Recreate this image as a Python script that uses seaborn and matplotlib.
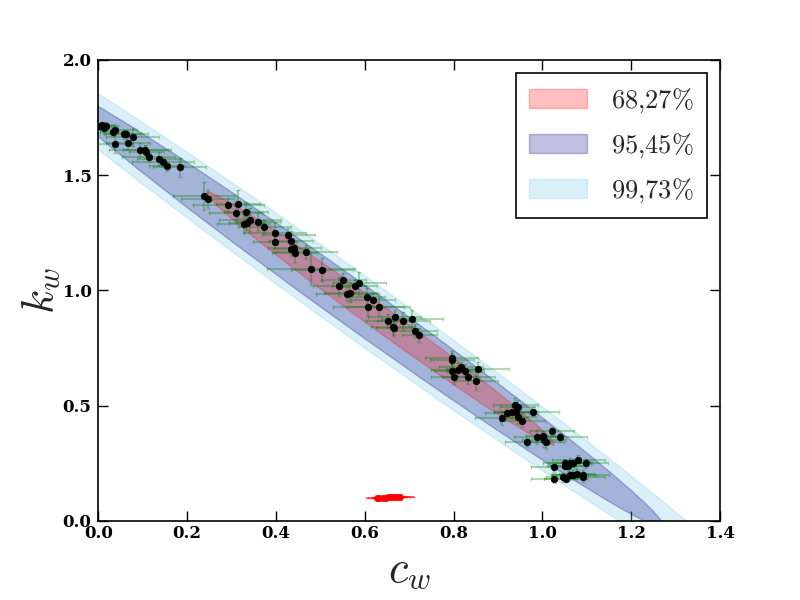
import numpy as np
import pandas as pd
import matplotlib
matplotlib.use('Agg')
import matplotlib.pyplot as plt
from matplotlib.patches import Ellipse
import seaborn as sns

# confidence regions (centre, semi-axes, slope of major axis)
levels = [r'$68{,}27\%$', r'$95{,}45\%$', r'$99{,}73\%$']
ell_c = [0.635, 0.575, 0.575]
ell_k = [0.878, 0.941, 0.941]
ell_major = [0.673, 1.19, 1.55]
ell_minor = [0.037, 0.068, 0.092]
ell_slope = [-1.405, -1.39, -1.39]

# measured points
c_w = [0.008, 0.016, 0.012, 0.004, 0.034, 0.038, 0.038, 0.057, 0.062, 0.077,
       0.066, 0.093, 0.106, 0.108, 0.113, 0.136, 0.146, 0.155, 0.183, 0.237,
       0.246, 0.293, 0.314, 0.310, 0.333, 0.342, 0.335, 0.327, 0.359, 0.374,
       0.398, 0.398, 0.428, 0.434, 0.434, 0.441, 0.442, 0.467, 0.479, 0.503,
       0.552, 0.543, 0.561, 0.567, 0.577, 0.588, 0.605, 0.618, 0.608, 0.631,
       0.653, 0.667, 0.663, 0.665, 0.687, 0.706, 0.712, 0.723, 0.796, 0.797,
       0.796, 0.809, 0.816, 0.825, 0.800, 0.833, 0.850, 0.854, 0.939, 0.944,
       0.920, 0.931, 0.941, 0.945, 0.908, 0.955, 0.978, 1.021, 0.987, 1.002,
       1.004, 1.008, 0.966, 1.040, 1.025, 1.051, 1.057, 1.062, 1.070, 1.081,
       1.098, 1.051, 1.025, 1.047, 1.053, 1.062, 1.070, 1.077, 1.091, 1.092]
k_w = [1.718, 1.714, 1.704, 1.712, 1.689, 1.696, 1.636, 1.678, 1.678, 1.665,
       1.639, 1.610, 1.610, 1.602, 1.578, 1.569, 1.556, 1.540, 1.534, 1.410,
       1.396, 1.371, 1.375, 1.335, 1.342, 1.306, 1.294, 1.288, 1.296, 1.277,
       1.251, 1.212, 1.241, 1.216, 1.180, 1.183, 1.161, 1.166, 1.092, 1.089,
       1.046, 1.017, 0.983, 0.988, 1.017, 1.031, 0.971, 0.959, 0.930, 0.927,
       0.868, 0.884, 0.843, 0.836, 0.868, 0.875, 0.824, 0.807, 0.706, 0.697,
       0.651, 0.655, 0.669, 0.652, 0.623, 0.623, 0.607, 0.659, 0.503, 0.496,
       0.467, 0.471, 0.474, 0.450, 0.446, 0.435, 0.473, 0.388, 0.363, 0.369,
       0.351, 0.341, 0.341, 0.363, 0.233, 0.250, 0.236, 0.253, 0.250, 0.265,
       0.250, 0.236, 0.182, 0.188, 0.181, 0.197, 0.200, 0.204, 0.200, 0.190]
c_err = [0.03, 0.02, 0.025, 0.04, 0.03, 0.05, 0.04, 0.04, 0.05, 0.06,
         0.05, 0.07, 0.05, 0.04, 0.06, 0.05, 0.07, 0.04, 0.06, 0.07,
         0.06, 0.08, 0.05, 0.06, 0.05, 0.07, 0.04, 0.06, 0.05, 0.06,
         0.07, 0.05, 0.06, 0.05, 0.04, 0.06, 0.05, 0.07, 0.10, 0.07,
         0.05, 0.06, 0.07, 0.06, 0.05, 0.06, 0.04, 0.05, 0.08, 0.07,
         0.05, 0.06, 0.05, 0.04, 0.06, 0.07, 0.05, 0.04, 0.06, 0.05,
         0.04, 0.06, 0.05, 0.04, 0.05, 0.06, 0.05, 0.07, 0.05, 0.04,
         0.05, 0.04, 0.05, 0.04, 0.06, 0.05, 0.06, 0.05, 0.05, 0.04,
         0.05, 0.04, 0.05, 0.06, 0.05, 0.05, 0.04, 0.05, 0.04, 0.06,
         0.05, 0.04, 0.05, 0.04, 0.05, 0.04, 0.05, 0.04, 0.06, 0.05]
k_err = [0.01, 0.015, 0.02, 0.01, 0.02, 0.015, 0.04, 0.02, 0.02, 0.04,
         0.03, 0.03, 0.02, 0.03, 0.02, 0.03, 0.02, 0.02, 0.04, 0.06,
         0.04, 0.03, 0.06, 0.03, 0.04, 0.05, 0.03, 0.04, 0.04, 0.03,
         0.04, 0.03, 0.03, 0.04, 0.03, 0.03, 0.04, 0.03, 0.07, 0.05,
         0.03, 0.04, 0.03, 0.04, 0.03, 0.05, 0.04, 0.03, 0.04, 0.04,
         0.03, 0.03, 0.04, 0.03, 0.04, 0.04, 0.03, 0.03, 0.03, 0.03,
         0.03, 0.03, 0.02, 0.03, 0.03, 0.03, 0.04, 0.03, 0.03, 0.03,
         0.02, 0.03, 0.02, 0.03, 0.03, 0.03, 0.02, 0.02, 0.03, 0.02,
         0.03, 0.03, 0.02, 0.02, 0.02, 0.02, 0.02, 0.02, 0.02, 0.02,
         0.02, 0.01, 0.02, 0.02, 0.01, 0.02, 0.02, 0.02, 0.02, 0.02]

# the red reference points
c_red = [0.627, 0.633, 0.640, 0.648, 0.652, 0.658, 0.665, 0.670, 0.676, 0.680]
k_red = [0.097, 0.099, 0.100, 0.101, 0.102, 0.103, 0.104, 0.105, 0.104, 0.105]
c_red_err = [0.02, 0.03, 0.025, 0.03, 0.02, 0.035, 0.03, 0.04, 0.025, 0.03]
k_red_err = [0.004, 0.003, 0.004, 0.003, 0.004, 0.003, 0.004, 0.003, 0.004, 0.003]

x_ticks = [0.0, 0.2, 0.4, 0.6, 0.8, 1.0, 1.2, 1.4]
y_ticks = [0.0, 0.5, 1.0, 1.5, 2.0]

sns.set_style('ticks', {'xtick.direction': 'in', 'ytick.direction': 'in',
                        'axes.edgecolor': 'black'})
plt.rcParams['mathtext.fontset'] = 'cm'
plt.rcParams['font.family'] = ['DejaVu Serif']

df = pd.DataFrame({'c': c_w, 'k': k_w, 'ce': c_err, 'ke': k_err})
red = pd.DataFrame({'c': c_red, 'k': k_red, 'ce': c_red_err, 'ke': k_red_err})

fig, ax = plt.subplots(figsize=(8, 6), dpi=100)
fig.subplots_adjust(left=0.123, right=0.9, bottom=0.132, top=0.9)

ell_colors = ['red', 'navy', 'skyblue']
ell_alpha = [0.25, 0.25, 0.3]
ell_z = [3, 2, 1]
for i in range(3):
    e = Ellipse((ell_c[i], ell_k[i]), width=2 * ell_major[i], height=2 * ell_minor[i],
                angle=np.degrees(np.arctan(ell_slope[i])), color=ell_colors[i],
                alpha=ell_alpha[i], lw=1, zorder=ell_z[i], label=levels[i])
    ax.add_patch(e)

ax.errorbar(df.c, df.k, xerr=df.ce, yerr=df.ke, fmt='none', ecolor='green',
            alpha=0.3, elinewidth=1.5, capsize=1.5, zorder=4)
sns.scatterplot(data=df, x='c', y='k', color='black', s=22, edgecolor='black',
                linewidth=0.5, zorder=5, ax=ax)

ax.errorbar(red.c, red.k, xerr=red.ce, yerr=red.ke, fmt='none', ecolor='red',
            alpha=0.4, elinewidth=1.5, capsize=1, zorder=4)
sns.scatterplot(data=red, x='c', y='k', color='red', s=20, edgecolor='red',
                linewidth=0.5, zorder=5, ax=ax)

ax.set_xlim(0, 1.4)
ax.set_ylim(0, 2.0)
ax.set_xticks(x_ticks)
ax.set_yticks(y_ticks)
ax.set_xticklabels(['%.1f' % v for v in x_ticks], fontweight='bold', fontsize=12)
ax.set_yticklabels(['%.1f' % v for v in y_ticks], fontweight='bold', fontsize=12)
ax.tick_params(top=True, right=True, direction='in', length=7, width=1,
               colors='black')
ax.tick_params(axis='x', pad=3)
ax.tick_params(axis='y', pad=5)
for s in ax.spines.values():
    s.set_linewidth(1.2)
    s.set_color('black')

ax.set_xlabel(r'$c_w$', fontsize=32)
ax.set_ylabel(r'$k_w$', fontsize=32, labelpad=0)

leg = ax.legend(loc='upper right', fontsize=19, frameon=True, fancybox=False,
                edgecolor='black', framealpha=1, handlelength=2.2,
                handleheight=0.75, borderpad=0.5, labelspacing=0.62,
                handletextpad=0.9)
leg.get_frame().set_linewidth(1.2)

fig.savefig('out.png', dpi=100)
